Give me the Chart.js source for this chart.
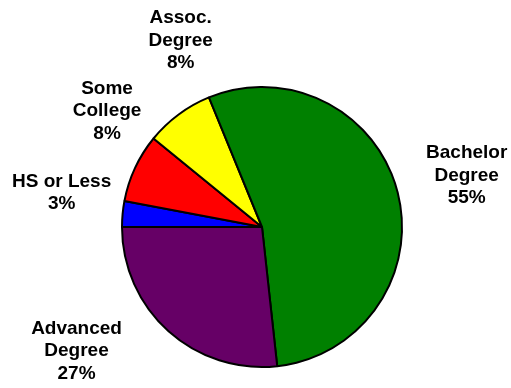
<!DOCTYPE html>
<html>
<head>
<meta charset="utf-8">
<title>Education Level</title>
<script src="https://cdn.jsdelivr.net/npm/chart.js@4"></script>
<style>
  html, body { margin: 0; padding: 0; background: #ffffff; }
  canvas { display: block; }
</style>
</head>
<body>
<canvas id="pie" width="511" height="388"></canvas>
<script>
// Education level shares (percent)
const categories = ['HS or Less', 'Some College', 'Assoc. Degree', 'Bachelor Degree', 'Advanced Degree'];
const shares = [3, 8, 8, 55, 27];
const sliceColors = ['#0000FF', '#FF0000', '#FFFF00', '#008000', '#660066'];

// Label text broken into lines, and nudges from each slice's outer midpoint
const labelLines = [
  ['HS or Less'],
  ['Some', 'College'],
  ['Assoc.', 'Degree'],
  ['Bachelor', 'Degree'],
  ['Advanced', 'Degree']
];
const labelNudge = [
  [-61, -21],
  [-28, -57],
  [2, -74],
  [69, -17],
  [-92, 20]
];

const outsideLabels = {
  id: 'outsideLabels',
  afterDatasetsDraw(chart) {
    const ctx = chart.ctx;
    const meta = chart.getDatasetMeta(0);
    ctx.save();
    ctx.font = 'bold 19px "Liberation Sans", Arial, sans-serif';
    ctx.fillStyle = '#000000';
    ctx.textAlign = 'center';
    ctx.textBaseline = 'middle';
    const lineH = 22.5;
    meta.data.forEach((arc, i) => {
      const p = arc.getProps(['x', 'y', 'startAngle', 'endAngle', 'outerRadius'], true);
      const mid = (p.startAngle + p.endAngle) / 2;
      const ax = p.x + Math.cos(mid) * p.outerRadius + labelNudge[i][0];
      const ay = p.y + Math.sin(mid) * p.outerRadius + labelNudge[i][1];
      const lines = labelLines[i].concat([shares[i] + '%']);
      const top = ay - (lines.length - 1) * lineH / 2;
      lines.forEach((t, k) => ctx.fillText(t, ax, top + k * lineH));
    });
    ctx.restore();
  }
};

new Chart(document.getElementById('pie'), {
  type: 'pie',
  data: {
    labels: categories,
    datasets: [{
      data: shares,
      backgroundColor: sliceColors,
      borderColor: '#000000',
      borderWidth: 2
    }]
  },
  options: {
    responsive: false,
    animation: false,
    rotation: -90,
    radius: 140,
    layout: { padding: { left: 13, right: 0, top: 66, bottom: 0 } },
    plugins: {
      legend: { display: false },
      tooltip: { enabled: false }
    }
  },
  plugins: [outsideLabels]
});
</script>
</body>
</html>
